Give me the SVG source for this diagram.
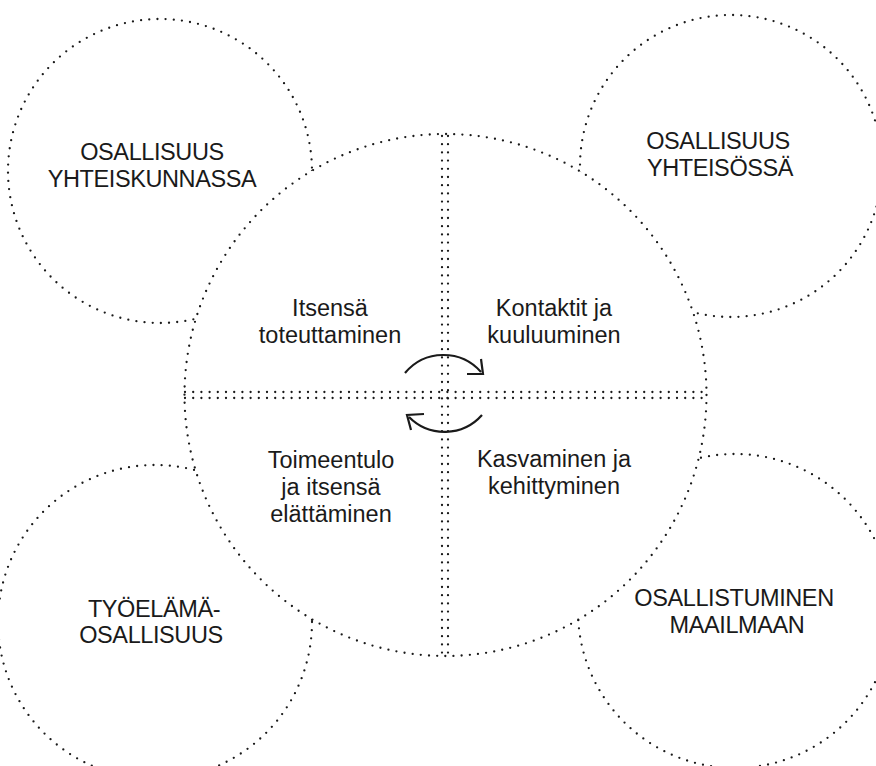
<svg xmlns="http://www.w3.org/2000/svg" width="876" height="766" viewBox="0 0 876 766">
  <style>
    .dots { fill: none; stroke: #1a1a1a; stroke-width: 2.3; stroke-linecap: round; stroke-dasharray: 0 8.2; }
    .hub { fill: #ffffff; }
    .title { font-family: "Liberation Sans", Arial, sans-serif; font-size: 23.5px; fill: #1a1a1a; text-anchor: middle; letter-spacing: -0.4px; }
    .label { font-family: "Liberation Sans", Arial, sans-serif; font-size: 23.5px; fill: #1a1a1a; text-anchor: middle; }
    .cycle { fill: none; stroke: #1a1a1a; stroke-width: 2.2; stroke-linecap: butt; stroke-linejoin: miter; }
  </style>

  <!-- outer participation circles (drawn first, the hub covers their inner arcs) -->
  <g id="osallisuus-yhteiskunnassa">
    <circle class="dots" cx="160" cy="171" r="152"/>
  </g>
  <g id="osallisuus-yhteisossa">
    <circle class="dots" cx="731" cy="166" r="151"/>
  </g>
  <g id="tyoelamaosallisuus">
    <circle class="dots" cx="155" cy="622" r="157"/>
  </g>
  <g id="osallistuminen-maailmaan">
    <circle class="dots" cx="735" cy="611" r="157"/>
  </g>

  <!-- central circle with its dotted cross -->
  <g id="keskus">
    <circle class="hub" cx="445.5" cy="395" r="261"/>
    <circle class="dots" cx="445.5" cy="395" r="261"/>
    <path class="dots" d="M442,136 V655 M448,136 V655"/>
    <path class="dots" d="M185,392 H707 M185,398 H707"/>
  </g>

  <!-- outer circle titles -->
  <g id="osallisuus-yhteiskunnassa-teksti">
    <text class="title" x="152" y="160">OSALLISUUS</text>
    <text class="title" x="152" y="187">YHTEISKUNNASSA</text>
  </g>
  <g id="osallisuus-yhteisossa-teksti">
    <text class="title" x="718" y="149">OSALLISUUS</text>
    <text class="title" x="720" y="176">YHTEISÖSSÄ</text>
  </g>
  <g id="tyoelamaosallisuus-teksti">
    <text class="title" x="154" y="617">TYÖELÄMÄ-</text>
    <text class="title" x="151" y="643">OSALLISUUS</text>
  </g>
  <g id="osallistuminen-maailmaan-teksti">
    <text class="title" x="734" y="606">OSALLISTUMINEN</text>
    <text class="title" x="737" y="633">MAAILMAAN</text>
  </g>

  <!-- quadrant labels -->
  <g id="itsensa-toteuttaminen">
    <text class="label" x="330" y="316">Itsensä</text>
    <text class="label" x="330" y="343">toteuttaminen</text>
  </g>
  <g id="kontaktit-ja-kuuluuminen">
    <text class="label" x="554" y="316">Kontaktit ja</text>
    <text class="label" x="554" y="343">kuuluuminen</text>
  </g>
  <g id="toimeentulo">
    <text class="label" x="331" y="468">Toimeentulo</text>
    <text class="label" x="331" y="495">ja itsensä</text>
    <text class="label" x="331" y="522">elättäminen</text>
  </g>
  <g id="kasvaminen-ja-kehittyminen">
    <text class="label" x="554" y="467">Kasvaminen ja</text>
    <text class="label" x="554" y="494">kehittyminen</text>
  </g>

  <!-- cycle arrows around the centre -->
  <g id="connectors">
    <path class="cycle" d="M405,373 A50,50 0 0 1 481,372"/>
    <path class="cycle" d="M467,374 L483,374 L481,359"/>
    <path class="cycle" d="M482,415 A50,50 0 0 1 409,417"/>
    <path class="cycle" d="M424,414 L407,415 L411,430"/>
  </g>
</svg>
